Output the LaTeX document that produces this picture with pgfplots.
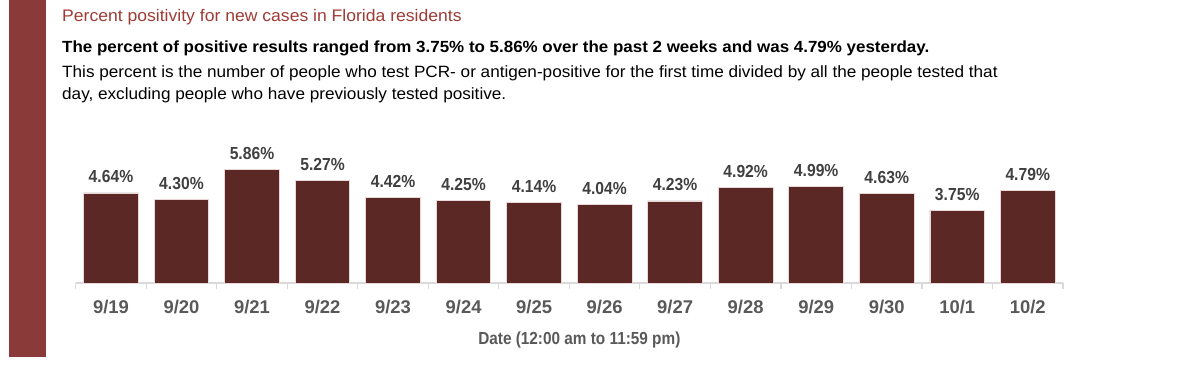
\documentclass[border=0pt]{standalone}
\usepackage{fontspec}
\setmainfont{Liberation Sans}
\newfontfamily\cond{Liberation Sans}[FakeStretch=0.9]
\newfontfamily\condx{Liberation Sans}[FakeStretch=0.88]
\newfontfamily\wide{Liberation Sans}[FakeStretch=1.05]
\usepackage{pgfplots}
\pgfplotsset{compat=1.18}
\definecolor{titlered}{HTML}{9E3B35}
\definecolor{sidebar}{HTML}{8B3A3A}
\definecolor{barfill}{HTML}{5B2826}
\definecolor{barline}{HTML}{E8D8D8}
\definecolor{axgray}{HTML}{D9D9D9}
\definecolor{labgray}{HTML}{404040}
\definecolor{tickgray}{HTML}{595959}
\begin{document}
\begin{tikzpicture}[x=1bp,y=1bp]
\path[use as bounding box] (0,0) rectangle (1200,-365);
\fill[sidebar] (9,0) rectangle (45.7,-357);
\node[anchor=base west, inner sep=0, text=titlered, font=\wide\fontsize{16.8}{20}\selectfont] at (62,-21) {Percent positivity for new cases in Florida residents};
\node[anchor=base west, inner sep=0, font=\wide\bfseries\fontsize{16.2}{20}\selectfont] at (62,-52) {The percent of positive results ranged from 3.75\% to 5.86\% over the past 2 weeks and was 4.79\% yesterday.};
\node[anchor=base west, inner sep=0, font=\wide\fontsize{16.4}{20}\selectfont] at (62,-77) {This percent is the number of people who test PCR- or antigen-positive for the first time divided by all the people tested that};
\node[anchor=base west, inner sep=0, font=\wide\fontsize{16.4}{20}\selectfont] at (62,-99) {day, excluding people who have previously tested positive.};
\begin{axis}[
  at={(75.7bp,-283bp)}, anchor=south west,
  scale only axis, width=987.3bp, height=126.1bp,
  xmin=-0.5, xmax=13.5, ymin=0, ymax=6.5,
  /pgf/number format/assume math mode=true,
  hide y axis,
  axis x line*=bottom,
  x axis line style={draw=axgray, line width=1.2bp, -},
  xtick={0,...,13},
  xticklabels={9/19,9/20,9/21,9/22,9/23,9/24,9/25,9/26,9/27,9/28,9/29,9/30,10/1,10/2},
  major tick length=0pt,
  major x tick style={draw=none},
  minor xtick={-0.5,0.5,...,13.5},
  minor tick length=6bp,
  tick align=outside,
  minor x tick style={draw=axgray, line width=1.2bp},
  xticklabel style={font=\bfseries\fontsize{18.5}{20}\selectfont, text=tickgray, anchor=base, yshift=-30.3bp},
  xlabel={Date (12:00 am to 11:59 pm)},
  xlabel style={font=\condx\bfseries\fontsize{17.5}{20}\selectfont, text=tickgray, xshift=10bp, yshift=-11bp},
  ybar, bar width=54.6bp,
  nodes near coords={\pgfmathprintnumber[fixed,fixed zerofill,precision=2]{\pgfplotspointmeta}\%},
  every node near coord/.append style={font=\cond\bfseries\fontsize{17.5}{20}\selectfont, text=labgray, anchor=base, yshift=10bp, inner sep=0pt},
]
\addplot[fill=barfill, draw=barline, line width=0.8bp] coordinates {
(0,4.64) (1,4.30) (2,5.86) (3,5.27) (4,4.42) (5,4.25) (6,4.14) (7,4.04) (8,4.23) (9,4.92) (10,4.99) (11,4.63) (12,3.75) (13,4.79)
};
\end{axis}
\end{tikzpicture}
\end{document}
